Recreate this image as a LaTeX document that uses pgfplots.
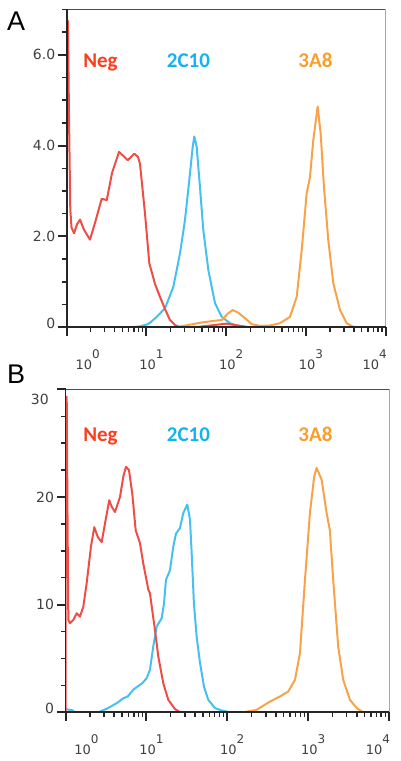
\documentclass[border=0pt]{standalone}
\usepackage{fontspec}
\setmainfont{DejaVu Sans}
\newfontfamily\lblfont{Carlito}
\newfontfamily\panelfont{Liberation Sans}
\usepackage{pgfplots}
\pgfplotsset{compat=1.18}
\definecolor{negred}{RGB}{238,78,70}
\definecolor{cyanl}{RGB}{70,192,240}
\definecolor{orangel}{RGB}{248,162,74}
\definecolor{negtxt}{RGB}{250,62,30}
\definecolor{cyantxt}{RGB}{22,178,238}
\definecolor{orangetxt}{RGB}{250,158,42}
\newcommand\tp[1]{10\raisebox{10.5pt}{\fontsize{12}{12}\selectfont #1}}
\pgfplotsset{flow/.style={
  scale only axis,
  axis line style={draw=none},
  xmin=0, xmax=4, ymin=0,
  xtick={0,1,2,3,4},
  xticklabels={\hspace*{32pt}\tp{0},\tp{1},\tp{2},\tp{3},\tp{4}\hspace*{32pt}},
  tick align=outside, xtick pos=left, ytick pos=left,
  every tick/.style={draw=none},
  xticklabel style={font=\fontsize{13}{13}\selectfont, text=black!75, anchor=north, inner sep=0pt, xshift=5pt, yshift=-18pt},
  yticklabel style={font=\fontsize{14}{14}\selectfont, text=black!75, anchor=east, inner sep=0pt, xshift=-7pt},
  every axis plot/.append style={line width=2pt, line join=round},
}}
% decorative frame and ticks, drawn in a scope whose units match the axis
\newcommand\flowframe[6]{% #1,#2 origin (pt); #3 pt per decade; #4 pt per y unit; #5 ymax; #6 minor y list
  \begin{scope}[shift={(#1pt,#2pt)}, x=#3pt, y=#4pt]
    \draw[black!70, line width=1pt] (0,#5) -- (4,#5);
    \draw[black!35, line width=1pt] (4,0) -- (4,#5);
    \draw[black!85, line width=1.6pt] (0,0) -- (0,#5);
    \draw[black!85, line width=1.9pt] (0,0) -- (4,0);
    \foreach \k in {0,...,4} \draw[black!85, line width=2pt] (\k,0) -- ++(0,-9pt);
    \foreach \k in {0,...,3} \foreach \d in {0.301,0.477,0.602,0.699,0.778,0.845,0.903,0.954}
      \draw[black!85, line width=1.4pt] (\k+\d,0) -- ++(0,-4.5pt);
    \foreach \v in {#6} \draw[black!85, line width=1.4pt] (0,\v) -- ++(-4.5pt,0);
  \end{scope}}
\begin{document}
\begin{tikzpicture}
\path[use as bounding box] (0pt,0pt) rectangle (400pt,-761pt);
% ---------------- Panel A
\begin{axis}[flow, at={(66.7pt,-327.3pt)}, anchor=south west,
  width=319pt, height=318pt, ymax=7,
  ytick={0,2,4,6}, yticklabels={\raisebox{8pt}{0},2.0,4.0,6.0}]
\addplot[cyanl] coordinates {
(0,0) (0.794,0) (0.919,0.02) (1.003,0.06) (1.045,0.10) (1.129,0.23) (1.233,0.42)
(1.337,0.89) (1.421,1.63) (1.483,2.36) (1.537,3.24) (1.580,3.97) (1.600,4.20)
(1.630,3.97) (1.671,3.09) (1.713,2.14) (1.776,1.26) (1.860,0.53) (1.944,0.23)
(2.048,0.09) (2.174,0.01) (2.3,0) (4,0)};
\addplot[negred] coordinates {
(0.000,0) (0.004,6.75) (0.015,6.75) (0.030,4.5) (0.045,2.6) (0.060,2.2)
(0.092,2.07) (0.130,2.27) (0.167,2.37) (0.216,2.15) (0.292,1.93) (0.355,2.30)
(0.439,2.83) (0.502,2.80) (0.569,3.40) (0.656,3.86) (0.706,3.78) (0.765,3.68)
(0.848,3.82) (0.894,3.75) (0.919,3.60) (0.982,2.50) (1.036,1.41) (1.108,0.95)
(1.170,0.67) (1.233,0.40) (1.295,0.16) (1.358,0.05) (1.421,0.00) (1.65,0.01)
(1.85,0.05) (2.0,0.08) (2.15,0.04) (2.3,0) (4,0)};
\addplot[orangel] coordinates {
(0,0) (1.358,0) (1.462,0.03) (1.671,0.10) (1.838,0.14) (1.944,0.16) (2.026,0.31)
(2.082,0.38) (2.152,0.32) (2.236,0.20) (2.320,0.07) (2.424,0.03) (2.549,0.04)
(2.674,0.09) (2.800,0.23) (2.884,0.67) (2.947,1.70) (3.009,2.95) (3.051,3.31)
(3.092,4.12) (3.147,4.86) (3.185,4.26) (3.226,3.09) (3.280,1.92) (3.343,0.97)
(3.427,0.38) (3.511,0.09) (3.594,0.01) (3.7,0) (4,0)};
\end{axis}
% ---------------- Panel B
\begin{axis}[flow, at={(65.5pt,-712.3pt)}, anchor=south west,
  width=323.5pt, height=323pt, ymax=30,
  ytick={0,10,20,30}, yticklabels={\raisebox{8pt}{0},10,20,{}}]
\addplot[cyanl] coordinates {
(0,0.3) (0.08,0.2) (0.12,0) (0.405,0) (0.529,0.4) (0.633,0.85) (0.714,1.3)
(0.769,1.47) (0.838,2.1) (0.892,2.4) (0.949,2.7) (1.004,3.17) (1.044,3.94)
(1.085,6.1) (1.127,7.96) (1.189,8.74) (1.218,10.1) (1.242,12.3) (1.292,13.2)
(1.333,15.4) (1.366,16.6) (1.415,17.1) (1.456,18.5) (1.506,19.3) (1.539,17.9)
(1.560,14.8) (1.588,10.1) (1.622,7.0) (1.663,4.6) (1.712,2.4) (1.765,1.16)
(1.848,0.4) (1.931,0.17) (2.034,0) (4,0)};
\addplot[negred] coordinates {
(0.000,0) (0.003,29.3) (0.015,29.3) (0.025,18) (0.035,8.6) (0.056,8.27)
(0.097,8.58) (0.138,9.2) (0.179,8.89) (0.220,9.8) (0.262,12.0) (0.315,15.4)
(0.356,17.2) (0.398,16.3) (0.447,15.8) (0.497,17.9) (0.541,19.7) (0.571,19.1)
(0.612,18.6) (0.674,20.0) (0.715,21.9) (0.748,22.8) (0.785,22.5) (0.826,20.3)
(0.868,16.9) (0.921,15.7) (0.962,13.8) (1.024,11.4) (1.044,11.06) (1.106,7.65)
(1.147,5.2) (1.209,2.7) (1.271,1.16) (1.354,0.3) (1.416,0) (4,0)};
\addplot[orangel] coordinates {
(0,0) (2.194,0) (2.363,0.23) (2.528,1.0) (2.652,1.47) (2.754,1.93) (2.837,3.0)
(2.899,5.5) (2.961,12.3) (3.022,18.5) (3.075,21.9) (3.105,22.7) (3.167,21.6)
(3.229,18.5) (3.269,16.9) (3.310,12.3) (3.372,6.1) (3.434,3.0) (3.517,1.16)
(3.600,0.4) (3.681,0) (4,0)};
\end{axis}
% frames and ticks
\flowframe{66.7}{-327.3}{79.75}{45.4286}{7}{0.5,1,1.5,2.5,3,3.5,4.5,5,5.5,6.5,7}
\begin{scope}[shift={(66.7pt,-327.3pt)}, y=45.4286pt]
  \foreach \v in {0,2,4,6} \draw[black!85, line width=2pt] (0,\v) -- ++(-9pt,0);
\end{scope}
\flowframe{65.5}{-712.3}{80.875}{10.7667}{30}{2.5,5,7.5,12.5,15,17.5,22.5,25,27.5}
\begin{scope}[shift={(65.5pt,-712.3pt)}, y=10.7667pt]
  \foreach \v in {0,10,20,30} \draw[black!85, line width=2pt] (0,\v) -- ++(-9pt,0);
\end{scope}
% labels
\node[anchor=east, inner sep=0pt, text=black!75, font=\fontsize{14}{14}\selectfont] at (49pt,-399pt) {30};
\node[anchor=base west, inner sep=0pt, font=\panelfont\fontsize{27}{27}\selectfont] at (7pt,-30pt) {A};
\node[anchor=base west, inner sep=0pt, font=\panelfont\fontsize{27}{27}\selectfont] at (7pt,-383pt) {B};
\foreach \yy in {-67pt,-441pt} {
  \node[anchor=base, inner sep=0pt, text=negtxt, font=\lblfont\bfseries\fontsize{21}{21}\selectfont] at (100.5pt,\yy) {Neg};
  \node[anchor=base, inner sep=0pt, text=cyantxt, font=\lblfont\bfseries\fontsize{21}{21}\selectfont] at (188.5pt,\yy) {2C10};
  \node[anchor=base, inner sep=0pt, text=orangetxt, font=\lblfont\bfseries\fontsize{21}{21}\selectfont] at (315.5pt,\yy) {3A8};
}
\end{tikzpicture}
\end{document}
